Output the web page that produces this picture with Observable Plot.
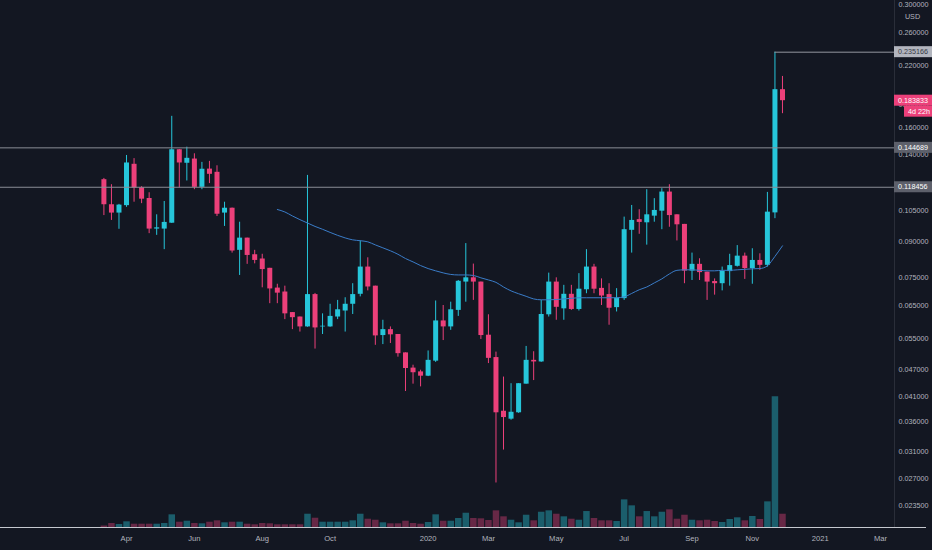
<!DOCTYPE html>
<html>
<head>
<meta charset="utf-8">
<script src="https://cdn.jsdelivr.net/npm/d3@7"></script>
<script src="https://cdn.jsdelivr.net/npm/@observablehq/plot@0.6"></script>
<style>
  html, body { margin: 0; padding: 0; background: #131722; }
  #chart { position: relative; width: 932px; height: 550px; background: #131722; overflow: hidden; }
  #chart svg { position: absolute; left: 0; top: 0; }
</style>
</head>
<body>
<div id="chart"></div>
<script>
// weekly candles, first bar on Monday 2019-03-11
const firstWeek = "2019-03-11";

const open = [0.1231,0.1084,0.1039,0.1079,0.1331,0.1181,0.1119,0.0958,0.0958,0.0987,
  0.1433,0.1338,0.1367,0.1184,0.1299,0.1278,0.1039,0.1065,0.0860,0.0915,
  0.0841,0.0823,0.0785,0.0710,0.0696,0.0627,0.0613,0.0583,0.0687,0.0583,
  0.0583,0.0613,0.0632,0.0654,0.0688,0.0790,0.0717,0.0558,0.0575,0.0561,
  0.0511,0.0473,0.0464,0.0454,0.0490,0.0601,0.0583,0.0634,0.0732,0.0748,
  0.0732,0.0559,0.0499,0.0380,0.0365,0.0377,0.0436,0.0492,0.0488,0.0620,
  0.0732,0.0639,0.0688,0.0637,0.0704,0.0790,0.0709,0.0687,0.0643,0.0673,
  0.0952,0.1005,0.0989,0.1023,0.1049,0.1156,0.1030,0.0981,0.0774,0.0801,
  0.0770,0.0734,0.0726,0.0772,0.0793,0.0835,0.0784,0.0817,0.0797,0.1040,
  0.1944];

const high = [0.1239,0.1200,0.1086,0.1392,0.1370,0.1188,0.1152,0.1030,0.1102,0.1698,
  0.1435,0.1452,0.1404,0.1344,0.1351,0.1321,0.1098,0.1066,0.0992,0.0915,
  0.0860,0.0843,0.0785,0.0724,0.0717,0.0627,0.0613,0.1258,0.0691,0.0623,
  0.0654,0.0667,0.0676,0.0726,0.0902,0.0828,0.0717,0.0603,0.0583,0.0561,
  0.0511,0.0480,0.0468,0.0516,0.0665,0.0650,0.0661,0.0738,0.0890,0.0802,
  0.0732,0.0620,0.0513,0.0452,0.0437,0.0437,0.0528,0.0514,0.0667,0.0766,
  0.0748,0.0720,0.0720,0.0764,0.0863,0.0801,0.0744,0.0726,0.0708,0.1018,
  0.1080,0.1057,0.1170,0.1118,0.1176,0.1200,0.1030,0.0981,0.0848,0.0824,
  0.0770,0.0744,0.0790,0.0843,0.0881,0.0848,0.0867,0.0845,0.1154,0.235166,
  0.2079];

const low = [0.1026,0.1001,0.0957,0.1070,0.1098,0.1090,0.0936,0.0928,0.0863,0.0986,
  0.1181,0.1223,0.1170,0.1170,0.1207,0.1021,0.0971,0.0848,0.0757,0.0801,
  0.0803,0.0711,0.0656,0.0656,0.0605,0.0575,0.0568,0.0582,0.0521,0.0561,
  0.0582,0.0605,0.0568,0.0621,0.0679,0.0700,0.0531,0.0533,0.0536,0.0500,
  0.0420,0.0436,0.0430,0.0453,0.0487,0.0544,0.0573,0.0615,0.0661,0.0667,
  0.0547,0.0484,0.0264,0.0312,0.0363,0.0376,0.0436,0.0444,0.0487,0.0613,
  0.0603,0.0603,0.0634,0.0632,0.0690,0.0690,0.0650,0.0588,0.0629,0.0667,
  0.0848,0.0933,0.0883,0.0992,0.0955,0.0967,0.0902,0.0726,0.0738,0.0738,
  0.0667,0.0685,0.0700,0.0717,0.0790,0.0742,0.0724,0.0777,0.0790,0.1010,
  0.1721];

const close = [0.1084,0.1039,0.1082,0.1340,0.1180,0.1115,0.0958,0.0964,0.0991,0.1433,
  0.1340,0.1372,0.1184,0.1298,0.1265,0.1033,0.1065,0.0857,0.0915,0.0838,
  0.0817,0.0780,0.0707,0.0692,0.0623,0.0611,0.0583,0.0687,0.0580,0.0585,
  0.0615,0.0636,0.0654,0.0687,0.0790,0.0714,0.0557,0.0575,0.0560,0.0509,
  0.0472,0.0462,0.0454,0.0492,0.0601,0.0583,0.0636,0.0735,0.0748,0.0732,
  0.0558,0.0497,0.0377,0.0368,0.0378,0.0437,0.0492,0.0488,0.0621,0.0732,
  0.0644,0.0688,0.0637,0.0706,0.0790,0.0706,0.0682,0.0641,0.0675,0.0955,
  0.1001,0.0991,0.1030,0.1053,0.1156,0.1026,0.0979,0.0774,0.0801,0.0768,
  0.0732,0.0726,0.0773,0.0796,0.0835,0.0784,0.0817,0.0797,0.1044,0.1944,
  0.183833];

// volume, arbitrary units
const volume = [1.5,4,3,5.7,3.3,3.3,3.3,3.3,4,12.7,
  5.3,6.3,4,3.7,5.3,6.7,4.7,5.3,5.3,3.3,
  2.7,4,3.7,2.7,2.7,2.7,2.7,13.3,9.3,5.3,
  5.3,5.3,5.3,6.7,13.3,8.3,7.3,4.7,3.7,3.7,
  6.3,4,3.3,5,12.7,6.3,6.3,9,14.3,9,
  8.7,7,16.7,10.7,7.3,4.7,12.3,6.7,15.3,16.7,
  13.3,10.7,8.3,7.3,16,9,6.7,6.7,6,27.7,
  21.7,10.7,16,10.7,15.3,17.7,8.3,12.3,7.3,6.7,
  7.3,6,5,8,9.7,6.7,11,8,25.7,131,
  13.3];

// moving average, starts at bar 23
const maStart = 23;
const maValues = [0.1058,0.1045,0.1024,0.1005,0.0988,0.0971,0.0957,0.0942,0.0928,0.0916,
  0.0907,0.0903,0.0898,0.0884,0.0871,0.0858,0.0843,0.0825,0.0811,0.0796,
  0.0784,0.0775,0.0767,0.0761,0.0759,0.0759,0.0757,0.0748,0.0740,0.0731,
  0.0714,0.0700,0.0690,0.0681,0.0672,0.0669,0.0669,0.0670,0.0672,0.0674,
  0.0676,0.0676,0.0676,0.0676,0.0676,0.0676,0.0679,0.0691,0.0704,0.0714,
  0.0729,0.0744,0.0763,0.0777,0.0779,0.0779,0.0777,0.0775,0.0775,0.0777,
  0.0777,0.0779,0.0781,0.0783,0.0784,0.0795,0.0834,0.0880];

const levels = [0.144689, 0.118456];
const rayLevel = 0.235166;
const countdown = "4d 22h";

const yTicks = [0.3, 0.26, 0.22, 0.18, 0.16, 0.14, 0.105, 0.09, 0.075,
  0.065, 0.055, 0.047, 0.041, 0.036, 0.031, 0.027, 0.0235];
const xTickDates = ["2019-04-01","2019-06-03","2019-08-05","2019-10-07","2020-01-06","2020-03-02",
  "2020-05-04","2020-07-06","2020-09-07","2020-11-02","2021-01-04","2021-03-01"];
const xTickLabels = ["Apr","Jun","Aug","Oct","2020","Mar","May","Jul","Sep","Nov","2021","Mar"];

const UP = "#26c6da", DOWN = "#ec407a";
const W = 932, H = 550, MR = 38, MB = 23;
const xDomain = [new Date("2018-12-05"), new Date("2021-03-14")];
const yDomain = [0.02106, 0.3057];

const start = new Date(firstWeek);
const weeks = d3.utcMonday.range(start, d3.utcMonday.offset(start, open.length));
const candles = weeks.map((date, i) => ({
  date, open: open[i], high: high[i], low: low[i], close: close[i],
  volume: volume[i], up: close[i] >= open[i]
}));
const ups = candles.filter(d => d.up);
const downs = candles.filter(d => !d.up);
const ma = maValues.map((v, k) => ({date: weeks[maStart + k], value: v}));
const last = candles[candles.length - 1];

const tickDates = xTickDates.map(s => new Date(s));
const labelOf = new Map(tickDates.map((d, i) => [+d, xTickLabels[i]]));
const fmt = d3.format(".6f");

const volumePlot = Plot.plot({
  width: W, height: H, marginLeft: 0, marginRight: MR, marginTop: 0, marginBottom: MB,
  style: {background: "transparent"},
  x: {type: "utc", domain: xDomain, axis: null},
  y: {domain: [0, 528], axis: null},
  marks: [
    Plot.ruleX(ups, {x: "date", y1: 0, y2: "volume", stroke: "#1b5e6c", strokeWidth: 6.5}),
    Plot.ruleX(downs, {x: "date", y1: 0, y2: "volume", stroke: "#672846", strokeWidth: 6.5})
  ]
});

const pricePlot = Plot.plot({
  width: W, height: H, marginLeft: 0, marginRight: MR, marginTop: 0, marginBottom: MB,
  style: {background: "transparent", color: "#b2b5be", fontFamily: "Liberation Sans, Arial, sans-serif"},
  x: {type: "utc", domain: xDomain, axis: null},
  y: {type: "log", domain: yDomain, axis: null},
  marks: [
    Plot.axisX({ticks: tickDates, tickFormat: d => labelOf.get(+d), tickSize: 0, tickPadding: 8,
      fontSize: 7.6, label: null}),
    Plot.axisY({anchor: "right", ticks: yTicks, tickFormat: fmt, tickSize: 0, tickPadding: 4,
      fontSize: 7.2, label: null}),
    Plot.text(["USD"], {frameAnchor: "top-right", dx: 18, dy: 13, text: d => d, fontSize: 7.2,
      textAnchor: "middle", fill: "#b2b5be", stroke: "#131722", strokeWidth: 4}),
    Plot.ruleX(ups, {x: "date", y1: "low", y2: "high", stroke: UP, strokeWidth: 1}),
    Plot.ruleX(ups, {x: "date", y1: "open", y2: "close", stroke: UP, strokeWidth: 5}),
    Plot.ruleX(downs, {x: "date", y1: "low", y2: "high", stroke: DOWN, strokeWidth: 1}),
    Plot.ruleX(downs, {x: "date", y1: "open", y2: "close", stroke: DOWN, strokeWidth: 5}),
    Plot.lineY(ma, {x: "date", y: "value", stroke: "#3a7cc8", strokeWidth: 1, curve: "monotone-x"}),
    Plot.ruleY(levels, {stroke: "#8a8d96", strokeWidth: 1}),
    Plot.ruleY([rayLevel], {x1: weeks[89], x2: xDomain[1], stroke: "#9598a1", strokeWidth: 1})
  ]
});

const chart = d3.select("#chart");
chart.append(() => volumePlot);
chart.append(() => pricePlot);

// axis frame lines and price labels on the right axis
const y = pricePlot.scale("y");
const svg = d3.select(pricePlot);
const axisX0 = W - MR;
svg.append("line").attr("x1", axisX0 + 0.5).attr("x2", axisX0 + 0.5).attr("y1", 0).attr("y2", H - MB)
  .attr("stroke", "#2a2e39");
svg.append("line").attr("x1", 0).attr("x2", W - 6).attr("y1", H - MB + 0.5).attr("y2", H - MB + 0.5)
  .attr("stroke", "#c5c8cf");

const boxes = [
  {value: rayLevel, text: fmt(rayLevel), bg: "#b2b5be", fg: "#363a45", w: 38},
  {value: levels[0], text: fmt(levels[0]), bg: "#5d606b", fg: "#ffffff", w: 38},
  {value: levels[1], text: fmt(levels[1]), bg: "#5d606b", fg: "#ffffff", w: 38},
  {value: last.close, text: fmt(last.close), bg: DOWN, fg: "#ffffff", w: 38},
  {value: last.close, text: countdown, bg: DOWN, fg: "#ffffff", w: 28, dy: 11}
];
const g = svg.append("g").attr("font-family", "Liberation Sans, Arial, sans-serif")
  .attr("font-size", 7.2).attr("text-anchor", "start");
for (const b of boxes) {
  const cy = y.apply(b.value) + (b.dy || 0);
  g.append("rect").attr("x", W - b.w).attr("y", cy - 5.5).attr("width", b.w).attr("height", 11)
    .attr("fill", b.bg);
  g.append("text").attr("x", W - b.w + 4).attr("y", cy).attr("dy", "0.35em")
    .attr("fill", b.fg).text(b.text);
}
</script>
</body>
</html>
